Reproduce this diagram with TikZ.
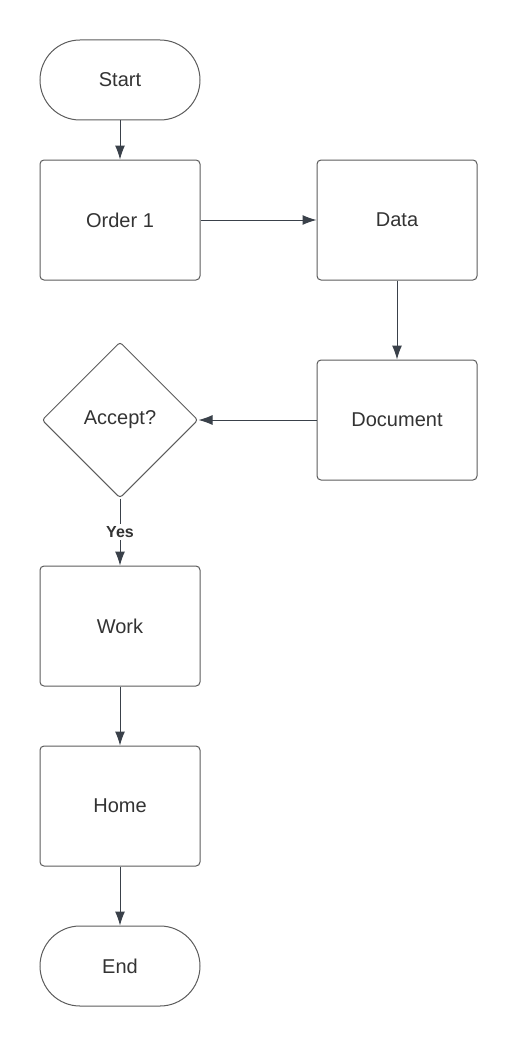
\documentclass[tikz,border=0pt]{standalone}
\usepackage{fontspec}
\setmainfont{Liberation Sans}
\usetikzlibrary{shapes.geometric,arrows.meta}
\definecolor{linegray}{HTML}{3A414A}
\definecolor{boxgray}{HTML}{5C5C5C}
\definecolor{textgray}{HTML}{333333}
\begin{document}
\begin{tikzpicture}[x=1pt, y=-1pt,
    every node/.style={text=textgray, font=\fontsize{20}{24}\selectfont},
    procbox/.style={draw=boxgray, line width=1pt, rounded corners=4pt, minimum width=160pt, minimum height=120pt},
    termbox/.style={draw=boxgray, line width=1pt, rounded corners=40pt, minimum width=160pt, minimum height=80pt},
    decbox/.style={draw=boxgray, line width=1pt, diamond, aspect=1, rounded corners=3pt, minimum size=156pt, inner sep=0pt},
    flow/.style={draw=linegray, line width=1pt, -{Latex[length=14pt,width=10pt]}}]
    \useasboundingbox (0,0) rectangle (517,1046);
    \node[termbox] (start) at (120,80) {Start};
    \node[procbox] (order) at (120,220) {Order 1};
    \node[procbox] (data) at (397,220) {Data};
    \node[procbox] (doc) at (397,420) {Document};
    \node[decbox] (accept) at (120,420) {Accept?};
    \node[procbox] (work) at (120,626) {Work};
    \node[procbox] (home) at (120,806) {Home};
    \node[termbox] (end) at (120,966) {End};
    \draw[flow] (start) -- (order);
    \draw[flow] (order) -- (data);
    \draw[flow] (data) -- (doc);
    \draw[flow] (doc) -- (accept);
    \draw[flow] (accept) -- node[fill=white, inner sep=2pt, font=\fontsize{16}{18}\selectfont\bfseries] {Yes} (work);
    \draw[flow] (work) -- (home);
    \draw[flow] (home) -- (end);
\end{tikzpicture}
\end{document}
